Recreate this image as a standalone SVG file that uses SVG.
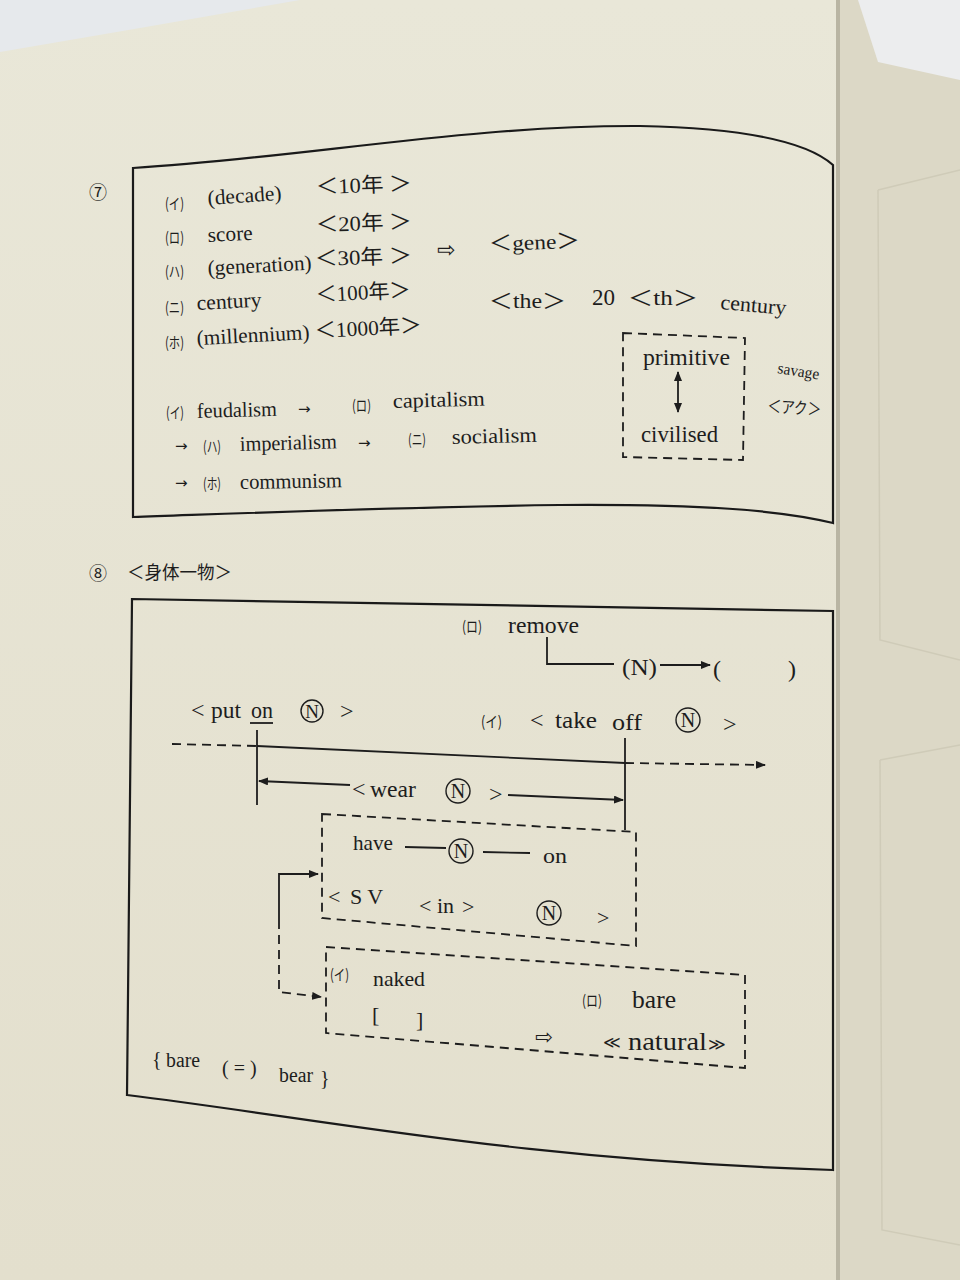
<svg xmlns="http://www.w3.org/2000/svg" width="960" height="1280" viewBox="0 0 960 1280">
<defs>
<style>
.t{font-family:"Liberation Serif","Noto Sans CJK JP",serif;fill:#1d1d1d}
.a{font-size:21px}
.b{font-size:24px}
.c{font-size:20px}
.k{font-family:"Noto Sans CJK JP",sans-serif;font-size:15px;fill:#1d1d1d}
.sym{font-family:"DejaVu Sans",sans-serif;fill:#1d1d1d}
.ln{fill:none;stroke:#1d1d1d;stroke-width:1.8}
.dl{fill:none;stroke:#1d1d1d;stroke-width:1.8;stroke-dasharray:9 6}
.box{fill:none;stroke:#1a1a1a;stroke-width:2.2}
.cn{fill:none;stroke:#1d1d1d;stroke-width:1.4}
</style>
<marker id="ah" viewBox="0 0 10 8" refX="9" refY="4" markerWidth="10" markerHeight="8" markerUnits="userSpaceOnUse" orient="auto-start-reverse">
<path d="M0,0 L10,4 L0,8 Z" fill="#1d1d1d"/>
</marker>
<linearGradient id="pg" x1="0" y1="0" x2="0" y2="1">
<stop offset="0" stop-color="#e9e7d8"/>
<stop offset="1" stop-color="#e3dfcd"/>
</linearGradient>
</defs>

<!-- background -->
<rect x="0" y="0" width="960" height="1280" fill="url(#pg)"/>
<path d="M0,0 L300,0 L140,28 L0,52 Z" fill="#e6e9ec"/>
<rect x="838" y="0" width="122" height="1280" fill="#dcd8c6"/>
<path d="M858,0 L960,0 L960,80 L878,62 Z" fill="#ecedee"/>
<line x1="838" y1="0" x2="838" y2="1280" stroke="#b9b5a3" stroke-width="4"/>
<path d="M878,190 L960,170 M878,190 L880,640 L960,660" fill="none" stroke="#cfcbb8" stroke-width="1.5"/>
<path d="M880,760 L960,745 M880,760 L882,1230 L960,1245" fill="none" stroke="#cfcbb8" stroke-width="1.5"/>

<!-- ===== Section 7 ===== -->
<g id="sec7-frame">
<path class="box" d="M133,168 C 300,158 470,125 640,126 C 740,128 805,140 833,165 L833,523 C 780,510 700,504 560,505 C 400,507 250,513 133,517 Z"/>
<text class="t" x="89" y="199" font-size="18">⑦</text>
</g>

<g id="n-decade">
<text class="k" x="165" y="209" textLength="19" lengthAdjust="spacingAndGlyphs">(イ)</text>
<text class="t a" x="208" y="205" textLength="74" lengthAdjust="spacingAndGlyphs" transform="rotate(-4 208 205)">(decade)</text>
<text class="t a" x="316" y="194" textLength="96" lengthAdjust="spacingAndGlyphs" transform="rotate(-2 316 194)">＜10年 ＞</text>
</g>
<g id="n-score">
<text class="k" x="165" y="243" textLength="19" lengthAdjust="spacingAndGlyphs">(ロ)</text>
<text class="t a" x="208" y="242" textLength="45" lengthAdjust="spacingAndGlyphs" transform="rotate(-3 208 242)">score</text>
<text class="t a" x="316" y="232" textLength="96" lengthAdjust="spacingAndGlyphs" transform="rotate(-2 316 232)">＜20年 ＞</text>
</g>
<g id="n-generation">
<text class="k" x="165" y="277" textLength="19" lengthAdjust="spacingAndGlyphs">(ハ)</text>
<text class="t a" x="208" y="275" textLength="104" lengthAdjust="spacingAndGlyphs" transform="rotate(-3 208 275)">(generation)</text>
<text class="t a" x="315" y="266" textLength="97" lengthAdjust="spacingAndGlyphs" transform="rotate(-2 315 266)">＜30年 ＞</text>
<text class="sym" x="437" y="257" font-size="22">⇨</text>
<text class="t a" x="489" y="251" textLength="91" lengthAdjust="spacingAndGlyphs" transform="rotate(-2 489 251)">＜gene＞</text>
</g>
<g id="n-century">
<text class="k" x="165" y="313" textLength="19" lengthAdjust="spacingAndGlyphs">(ニ)</text>
<text class="t a" x="197" y="310" textLength="65" lengthAdjust="spacingAndGlyphs" transform="rotate(-3 197 310)">century</text>
<text class="t a" x="316" y="302" textLength="95" lengthAdjust="spacingAndGlyphs" transform="rotate(-3 316 302)">＜100年＞</text>
<text class="t a" x="489" y="308" textLength="77" lengthAdjust="spacingAndGlyphs">＜the＞</text>
<text class="t" x="592" y="305" font-size="23">20</text>
<text class="t a" x="628" y="305" textLength="70" lengthAdjust="spacingAndGlyphs">＜th＞</text>
<text class="t a" x="720" y="309" textLength="66" lengthAdjust="spacingAndGlyphs" transform="rotate(5 720 309)">century</text>
</g>
<g id="n-millennium">
<text class="k" x="165" y="348" textLength="19" lengthAdjust="spacingAndGlyphs">(ホ)</text>
<text class="t a" x="197" y="345" textLength="113" lengthAdjust="spacingAndGlyphs" transform="rotate(-3 197 345)">(millennium)</text>
<text class="t a" x="315" y="338" textLength="107" lengthAdjust="spacingAndGlyphs" transform="rotate(-3 315 338)">＜1000年＞</text>
</g>

<g id="n-primitive-civilised">
<path class="dl" d="M623,333 L745,338 L743,460 L623,457 Z"/>
<text class="t" x="643" y="365" font-size="23" textLength="87" lengthAdjust="spacingAndGlyphs">primitive</text>
<line class="ln" x1="678" y1="372" x2="678" y2="412" marker-start="url(#ah)" marker-end="url(#ah)"/>
<text class="t" x="641" y="442" font-size="23" textLength="77" lengthAdjust="spacingAndGlyphs">civilised</text>
</g>
<g id="n-savage">
<text class="t" x="777" y="373" font-size="16" textLength="42" lengthAdjust="spacingAndGlyphs" transform="rotate(9 777 373)">savage</text>
<text class="t" x="767" y="412" font-size="17" textLength="54" lengthAdjust="spacingAndGlyphs" transform="rotate(4 767 412)">＜アク＞</text>
</g>

<g id="n-isms">
<text class="k" x="166" y="418" textLength="18" lengthAdjust="spacingAndGlyphs">(イ)</text>
<text class="t a" x="197" y="418" textLength="80" lengthAdjust="spacingAndGlyphs" transform="rotate(-1.5 197 418)">feudalism</text>
<text class="sym" x="298" y="414" font-size="15">→</text>
<text class="k" x="352" y="411" textLength="19" lengthAdjust="spacingAndGlyphs">(ロ)</text>
<text class="t a" x="393" y="408" textLength="92" lengthAdjust="spacingAndGlyphs" transform="rotate(-1.5 393 408)">capitalism</text>
<text class="sym" x="175" y="451" font-size="15">→</text>
<text class="k" x="203" y="452" textLength="18" lengthAdjust="spacingAndGlyphs">(ハ)</text>
<text class="t a" x="240" y="451" textLength="97" lengthAdjust="spacingAndGlyphs" transform="rotate(-1.5 240 451)">imperialism</text>
<text class="sym" x="358" y="448" font-size="15">→</text>
<text class="k" x="408" y="445" textLength="18" lengthAdjust="spacingAndGlyphs">(ニ)</text>
<text class="t a" x="452" y="444" textLength="85" lengthAdjust="spacingAndGlyphs" transform="rotate(-1.5 452 444)">socialism</text>
<text class="sym" x="175" y="488" font-size="15">→</text>
<text class="k" x="203" y="489" textLength="18" lengthAdjust="spacingAndGlyphs">(ホ)</text>
<text class="t a" x="240" y="489" textLength="102" lengthAdjust="spacingAndGlyphs" transform="rotate(-1 240 489)">communism</text>
</g>

<!-- ===== Section 8 ===== -->
<g id="sec8-frame">
<path class="box" d="M132,599 L833,611 L833,1170 C 520,1160 330,1120 127,1095 Z"/>
<text class="t" x="89" y="580" font-size="18">⑧</text>
<text class="t" x="127" y="579" font-size="18" textLength="105" lengthAdjust="spacingAndGlyphs">＜身体一物＞</text>
</g>

<g id="n-remove">
<text class="k" x="462" y="632" textLength="20" lengthAdjust="spacingAndGlyphs">(ロ)</text>
<text class="t b" x="508" y="633" textLength="71" lengthAdjust="spacingAndGlyphs">remove</text>
</g>
<g id="n-N-paren">
<text class="t b" x="622" y="675" textLength="35" lengthAdjust="spacingAndGlyphs">(N)</text>
<text class="t b" x="713" y="677">(</text>
<text class="t b" x="788" y="677">)</text>
</g>

<g id="n-puton">
<text class="t b" x="191" y="718">&lt;</text>
<text class="t b" x="211" y="718" textLength="30" lengthAdjust="spacingAndGlyphs">put</text>
<text class="t b" x="251" y="718" textLength="22" lengthAdjust="spacingAndGlyphs">on</text>
<line class="ln" x1="250" y1="723" x2="273" y2="723"/>
<circle cx="312" cy="711" r="11" class="cn"/>
<text class="t" x="312" y="718" font-size="19" text-anchor="middle">N</text>
<text class="t b" x="340" y="719">&gt;</text>
</g>

<g id="n-takeoff">
<text class="k" x="481" y="727" textLength="21" lengthAdjust="spacingAndGlyphs">(イ)</text>
<text class="t b" x="530" y="728">&lt;</text>
<text class="t b" x="555" y="728" textLength="42" lengthAdjust="spacingAndGlyphs">take</text>
<text class="t b" x="612" y="730" textLength="30" lengthAdjust="spacingAndGlyphs">off</text>
<circle cx="688" cy="720" r="12" class="cn"/>
<text class="t" x="688" y="727" font-size="20" text-anchor="middle">N</text>
<text class="t b" x="723" y="732">&gt;</text>
</g>

<g id="n-wear">
<text class="t b" x="352" y="797">&lt;</text>
<text class="t b" x="370" y="797" textLength="46" lengthAdjust="spacingAndGlyphs">wear</text>
<circle cx="458" cy="791" r="12" class="cn"/>
<text class="t" x="458" y="798" font-size="20" text-anchor="middle">N</text>
<text class="t b" x="489" y="802">&gt;</text>
</g>

<g id="n-have-on">
<path class="dl" d="M322,814 L636,832 L636,946 L322,918 Z"/>
<text class="t" x="353" y="850" font-size="22" textLength="40" lengthAdjust="spacingAndGlyphs">have</text>
<line class="ln" x1="405" y1="847" x2="446" y2="848"/>
<circle cx="461" cy="851" r="12" class="cn"/>
<text class="t" x="461" y="858" font-size="20" text-anchor="middle">N</text>
<line class="ln" x1="483" y1="852" x2="530" y2="853"/>
<text class="t" x="543" y="863" font-size="22" textLength="24" lengthAdjust="spacingAndGlyphs">on</text>
<text class="t" x="328" y="904" font-size="22">&lt;</text>
<text class="t" x="350" y="904" font-size="22">S V</text>
<text class="t" x="419" y="913" font-size="22">&lt;</text>
<text class="t" x="437" y="913" font-size="22">in</text>
<text class="t" x="462" y="914" font-size="22">&gt;</text>
<circle cx="549" cy="913" r="12" class="cn"/>
<text class="t" x="549" y="920" font-size="20" text-anchor="middle">N</text>
<text class="t" x="597" y="925" font-size="22">&gt;</text>
</g>

<g id="n-naked-bare">
<path class="dl" d="M326,947 L745,975 L745,1068 L326,1033 Z"/>
<text class="k" x="330" y="980" textLength="19" lengthAdjust="spacingAndGlyphs">(イ)</text>
<text class="t" x="373" y="986" font-size="22" textLength="52" lengthAdjust="spacingAndGlyphs">naked</text>
<text class="t" x="372" y="1022" font-size="22">[</text>
<text class="t" x="416" y="1027" font-size="22">]</text>
<text class="k" x="582" y="1006" textLength="20" lengthAdjust="spacingAndGlyphs">(ロ)</text>
<text class="t" x="632" y="1008" font-size="25" textLength="44" lengthAdjust="spacingAndGlyphs">bare</text>
<text class="sym" x="535" y="1044" font-size="21">⇨</text>
<text class="sym" x="603" y="1048" font-size="17">≪</text>
<text class="t" x="628" y="1050" font-size="25" textLength="79" lengthAdjust="spacingAndGlyphs">natural</text>
<text class="sym" x="708" y="1050" font-size="17">≫</text>
</g>

<g id="n-bare-bear">
<text class="t c" x="152" y="1066">{</text>
<text class="t c" x="166" y="1067" textLength="34" lengthAdjust="spacingAndGlyphs">bare</text>
<text class="t c" x="222" y="1075">( = )</text>
<text class="t c" x="279" y="1082" textLength="34" lengthAdjust="spacingAndGlyphs">bear</text>
<text class="t c" x="320" y="1085">}</text>
</g>

<g id="connectors">
<line class="dl" x1="172" y1="744" x2="257" y2="746"/>
<line class="ln" x1="257" y1="746" x2="625" y2="763"/>
<line class="dl" x1="625" y1="763" x2="765" y2="765" marker-end="url(#ah)"/>
<line class="ln" x1="257" y1="730" x2="257" y2="805"/>
<line class="ln" x1="625" y1="738" x2="625" y2="830"/>
<line class="ln" x1="350" y1="785" x2="259" y2="781" marker-end="url(#ah)"/>
<line class="ln" x1="508" y1="795" x2="623" y2="800" marker-end="url(#ah)"/>
<path class="ln" d="M547,637 L547,664 L614,664"/>
<line class="ln" x1="660" y1="665" x2="710" y2="665" marker-end="url(#ah)"/>
<path class="ln" d="M279,920 L279,874 L318,874" marker-end="url(#ah)"/>
<path class="dl" d="M279,920 L279,992 L321,997" marker-end="url(#ah)"/>
</g>
</svg>
